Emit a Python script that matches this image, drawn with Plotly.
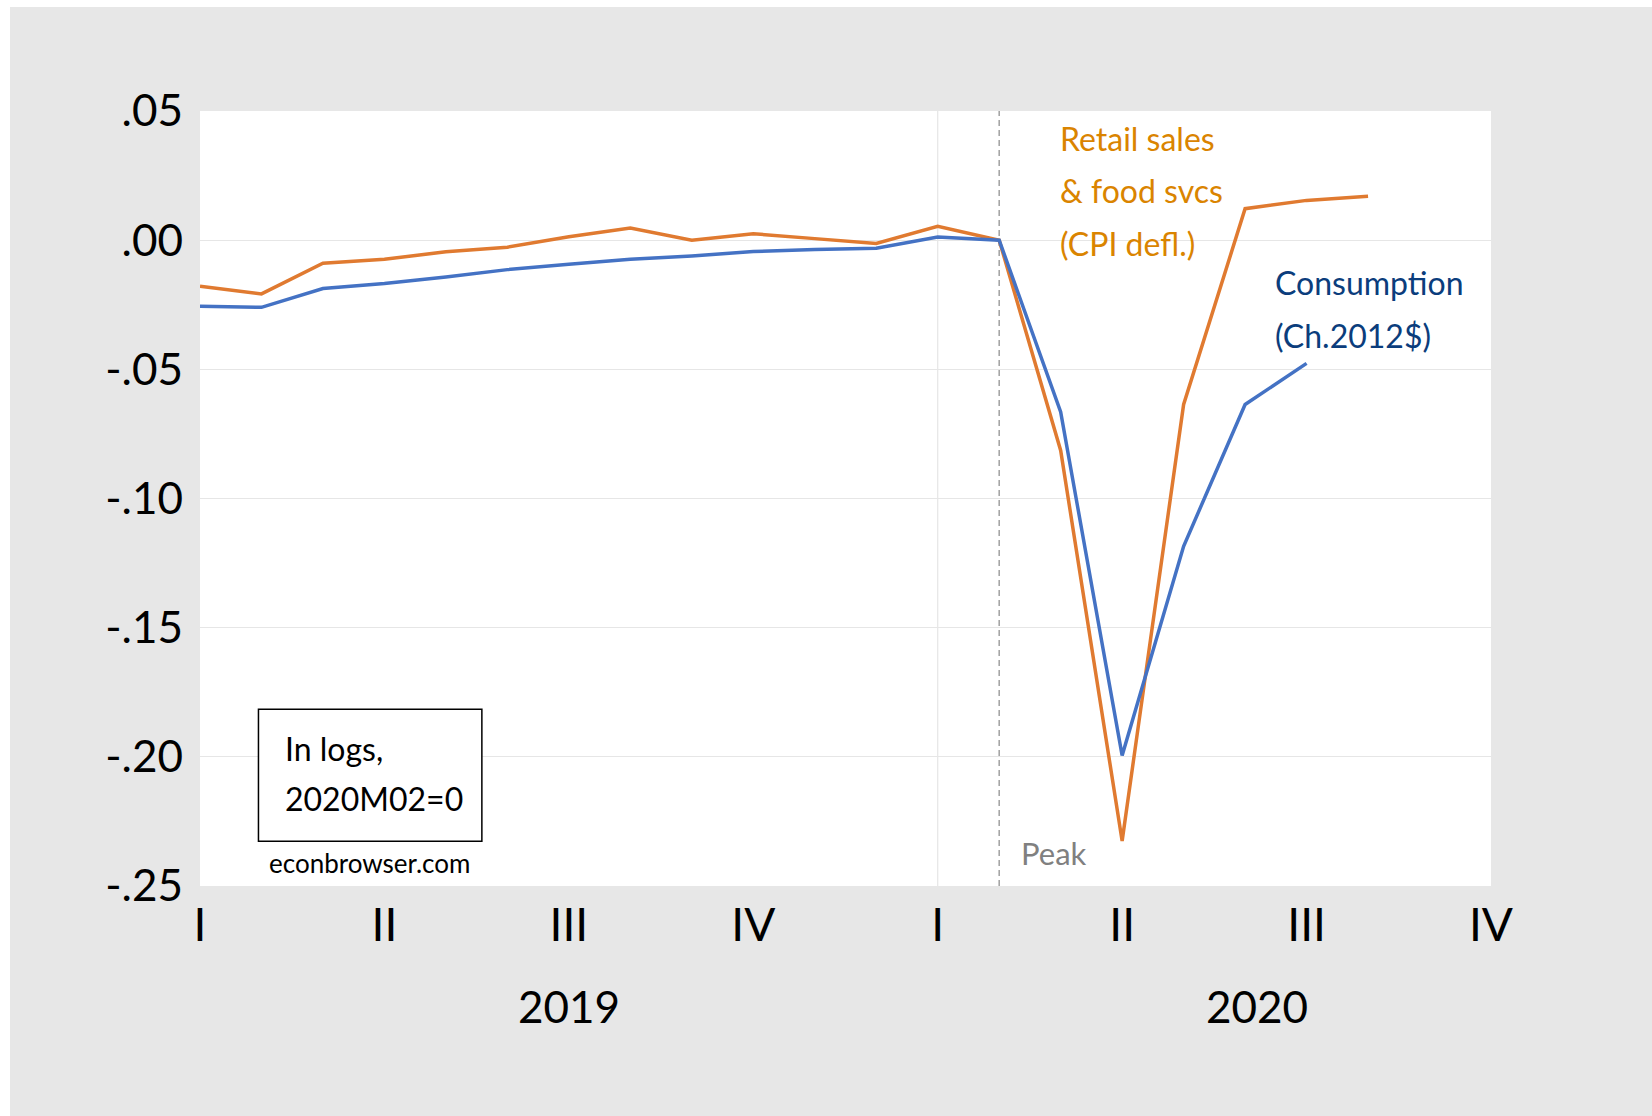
import plotly.graph_objects as go

# ---- data (log levels, 2020M02 = 0) ----
months = ["2019M01", "2019M02", "2019M03", "2019M04", "2019M05", "2019M06",
          "2019M07", "2019M08", "2019M09", "2019M10", "2019M11", "2019M12",
          "2020M01", "2020M02", "2020M03", "2020M04", "2020M05", "2020M06",
          "2020M07", "2020M08"]
retail_sales = [-0.0178, -0.0208, -0.0089, -0.0074, -0.0045, -0.0027,
                0.0013, 0.0047, 0.0000, 0.0025, 0.0006, -0.0013,
                0.0054, 0.0000, -0.0814, -0.2326, -0.0636, 0.0122,
                0.0154, 0.0170]
consumption = [-0.0256, -0.0260, -0.0187, -0.0168, -0.0143, -0.0114,
               -0.0093, -0.0074, -0.0061, -0.0044, -0.0036, -0.0031,
               0.0012, 0.0000, -0.0665, -0.1995, -0.1185, -0.0636,
               -0.0477, None]

# quarter ticks (month index from 2019M01)
quarter_tick_pos = [0, 3, 6, 9, 12, 15, 18, 21]
quarter_tick_text = ["I", "II", "III", "IV", "I", "II", "III", "IV"]
y_tick_vals = [0.05, 0.0, -0.05, -0.10, -0.15, -0.20, -0.25]
y_tick_text = [".05", ".00", "-.05", "-.10", "-.15", "-.20", "-.25"]
year_labels = ["2019", "2020"]
year_label_pos = [6, 17.2]
peak_month = 13        # 2020M02
year_break_month = 12  # 2020M01

x = list(range(len(months)))

FONT = "Lato"
ORANGE_LINE = "#E07A30"
BLUE_LINE = "#4472C4"
ORANGE_TEXT = "#DA8400"
BLUE_TEXT = "#0B3D7C"

fig = go.Figure()
fig.add_trace(go.Scatter(x=x, y=retail_sales, mode="lines", name="Retail sales",
                         line=dict(color=ORANGE_LINE, width=3.5)))
fig.add_trace(go.Scatter(x=x, y=consumption, mode="lines", name="Consumption",
                         line=dict(color=BLUE_LINE, width=3.5)))

# vertical year gridline and peak line
fig.add_shape(type="line", xref="x", yref="paper", x0=year_break_month, x1=year_break_month,
              y0=0, y1=1, line=dict(color="#E6E6E6", width=1.2), layer="below")
fig.add_shape(type="line", xref="x", yref="paper", x0=peak_month, x1=peak_month,
              y0=0, y1=1, line=dict(color="#A0A0A0", width=1.5, dash="6px,4px"), layer="below")

# white strips at top and left of the figure (gray background starts a bit inside)
fig.add_shape(type="rect", xref="paper", yref="paper", x0=-0.2, x1=1.2, y0=1.13419, y1=1.2,
              fillcolor="white", line=dict(width=0), layer="below")
fig.add_shape(type="rect", xref="paper", yref="paper", x0=-0.2, x1=-0.14717, y0=-0.4, y1=1.2,
              fillcolor="white", line=dict(width=0), layer="below")

# note box
fig.add_shape(type="rect", xref="x", yref="y", x0=0.951, x1=4.585, y0=-0.2327, y1=-0.1816,
              fillcolor="white", line=dict(color="black", width=1.5), layer="above")

annotations = [
    dict(text="Retail sales", x=13.95, y=0.0395, color=ORANGE_TEXT, size=32),
    dict(text="& food svcs", x=13.95, y=0.0194, color=ORANGE_TEXT, size=32),
    dict(text="(CPI defl.)", x=13.95, y=-0.0012, color=ORANGE_TEXT, size=32),
    dict(text="Consumption", x=17.46, y=-0.0163, color=BLUE_TEXT, size=32),
    dict(text="(Ch.2012$)", x=17.46, y=-0.0368, color=BLUE_TEXT, size=32),
    dict(text="Peak", x=13.33, y=-0.2373, color="#808080", size=31),
    dict(text="In logs,", x=1.35, y=-0.1967, color="black", size=32),
    dict(text="2020M02=0", x=1.35, y=-0.2160, color="black", size=32),
    dict(text="econbrowser.com", x=1.09, y=-0.2412, color="black", size=26),
]
for a in annotations:
    fig.add_annotation(text=a["text"], x=a["x"], y=a["y"], xref="x", yref="y",
                       xanchor="left", yanchor="middle", showarrow=False,
                       font=dict(family=FONT, size=a["size"], color=a["color"]))

for lab, pos in zip(year_labels, year_label_pos):
    fig.add_annotation(text=lab, x=pos, y=-0.1548, xref="x", yref="paper",
                       xanchor="center", yanchor="middle", showarrow=False,
                       font=dict(family=FONT, size=44, color="black"))

fig.update_layout(
    width=1652, height=1116,
    margin=dict(l=200, r=161, t=111, b=230),
    paper_bgcolor="#E7E7E7",
    plot_bgcolor="white",
    showlegend=False,
    font=dict(family=FONT, color="black"),
    xaxis=dict(range=[0, 21], tickmode="array", tickvals=quarter_tick_pos,
               ticktext=quarter_tick_text, showgrid=False, zeroline=False,
               showline=False, ticks="", ticklabelstandoff=8,
               tickfont=dict(family=FONT, size=46, color="black")),
    yaxis=dict(range=[-0.25, 0.05], tickmode="array", tickvals=y_tick_vals,
               ticktext=y_tick_text, showgrid=True, gridcolor="#E6E6E6", gridwidth=1.2,
               zeroline=False, showline=False, ticks="", ticklabelstandoff=16,
               tickfont=dict(family=FONT, size=44, color="black")),
)

fig.write_html("out.html", config={"displayModeBar": False},
               post_script="document.body.style.margin='0';document.body.style.overflow='hidden';")
